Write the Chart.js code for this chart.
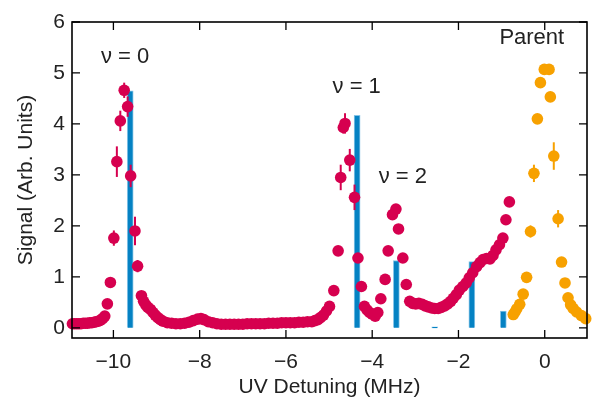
<!DOCTYPE html>
<html>
<head>
<meta charset="utf-8">
<script src="https://cdn.jsdelivr.net/npm/chart.js@4.4.1/dist/chart.umd.min.js"></script>
<style>
  html, body { margin: 0; padding: 0; background: #fff; }
</style>
</head>
<body>
<canvas id="chart" width="594" height="403"></canvas>
<script>
// molecule signal (red points), detuning in MHz
const molX = [
  -10.95, -10.9, -10.85, -10.8, -10.75, -10.7, -10.65, -10.6, -10.55, -10.5,
  -10.45, -10.4, -10.35, -10.3, -10.25, -10.2, -10.14, -10.07,
  -9.99, -9.92, -9.84, -9.75, -9.67, -9.6, -9.5, -9.44, -9.35, -9.3,
  -9.25, -9.2, -9.14, -9.08, -9.03, -8.97, -8.91, -8.85, -8.75, -8.65,
  -8.55, -8.45, -8.35, -8.25, -8.15, -8.05, -7.97, -7.9, -7.8, -7.7,
  -7.6, -7.5, -7.4, -7.3, -7.2, -7.1, -7.0, -6.9, -6.8, -6.7,
  -6.6, -6.5, -6.4, -6.3, -6.2, -6.1, -6.0, -5.9, -5.8, -5.7,
  -5.6, -5.5, -5.4, -5.33, -5.26, -5.2, -5.13, -5.06, -4.99, -4.89,
  -4.79, -4.73, -4.67, -4.63, -4.52, -4.41, -4.33, -4.25, -4.18, -4.12,
  -4.06, -4.0, -3.93, -3.87, -3.8, -3.7, -3.63, -3.53, -3.45, -3.39,
  -3.29, -3.21, -3.13, -3.06, -2.99, -2.92, -2.84, -2.77, -2.7, -2.62,
  -2.55, -2.47, -2.4, -2.32, -2.25, -2.18, -2.12, -2.05, -1.98, -1.9,
  -1.82, -1.75, -1.67, -1.58, -1.5, -1.43, -1.35, -1.27, -1.2, -1.13,
  -1.05, -0.97, -0.9, -0.82
];
const molY = [
  0.08, 0.08, 0.08, 0.08, 0.08, 0.09, 0.09, 0.09, 0.10, 0.10,
  0.11, 0.12, 0.13, 0.15, 0.18, 0.23, 0.47, 0.89,
  1.76, 3.26, 4.06, 4.66, 4.34, 2.98, 1.90, 1.21, 0.63, 0.52,
  0.45, 0.40, 0.36, 0.30, 0.25, 0.20, 0.16, 0.13, 0.10, 0.09,
  0.08, 0.08, 0.09, 0.11, 0.14, 0.17, 0.18, 0.16, 0.12, 0.10,
  0.08, 0.07, 0.07, 0.07, 0.07, 0.07, 0.07, 0.08, 0.08, 0.08,
  0.08, 0.08, 0.09, 0.09, 0.09, 0.10, 0.10, 0.10, 0.10, 0.11,
  0.11, 0.12, 0.12, 0.14, 0.16, 0.20, 0.25, 0.33, 0.42, 0.73,
  1.51, 2.95, 3.93, 4.01, 3.29, 2.56, 1.37, 0.81, 0.42, 0.35,
  0.30, 0.27, 0.23, 0.30, 0.57, 0.95, 1.51, 2.22, 2.33, 1.94,
  1.37, 0.85, 0.52, 0.48, 0.47, 0.48, 0.46, 0.43, 0.41, 0.39,
  0.38, 0.38, 0.40, 0.43, 0.47, 0.52, 0.58, 0.65, 0.74, 0.81,
  0.88, 0.98, 1.08, 1.20, 1.28, 1.34, 1.36, 1.35, 1.42, 1.53,
  1.63, 1.76, 2.12, 2.47
];
// half-length of error bars (0 = none drawn)
const molErr = [
  0, 0, 0, 0, 0, 0, 0, 0, 0, 0,
  0, 0, 0, 0, 0, 0, 0, 0,
  0.15, 0.3, 0.2, 0.15, 0.2, 0.22, 0.28, 0.12, 0, 0,
  0, 0, 0, 0, 0, 0, 0, 0, 0, 0,
  0, 0, 0, 0, 0, 0, 0, 0, 0, 0,
  0, 0, 0, 0, 0, 0, 0, 0, 0, 0,
  0, 0, 0, 0, 0, 0, 0, 0, 0, 0,
  0, 0, 0, 0, 0, 0, 0, 0, 0, 0,
  0, 0.25, 0.12, 0.2, 0.22, 0.25, 0, 0, 0, 0,
  0, 0, 0, 0, 0, 0, 0, 0, 0, 0,
  0, 0, 0, 0, 0, 0, 0, 0, 0, 0,
  0, 0, 0, 0, 0, 0, 0, 0, 0, 0,
  0, 0, 0, 0, 0, 0, 0, 0, 0, 0,
  0, 0, 0, 0
];

// parent (orange points)
const parentX = [-0.73, -0.69, -0.65, -0.58, -0.5, -0.42, -0.33, -0.25, -0.17, -0.1,
  -0.01, 0.1, 0.13, 0.21, 0.31, 0.39, 0.47, 0.54, 0.6, 0.66, 0.74, 0.85, 0.95];
const parentY = [0.26, 0.31, 0.37, 0.46, 0.66, 0.99, 1.89, 3.03, 4.10, 4.81,
  5.07, 5.07, 4.53, 3.37, 2.14, 1.29, 0.88, 0.59, 0.45, 0.38, 0.31, 0.24, 0.18];
const parentErr = [0, 0, 0, 0, 0, 0, 0.12, 0.17, 0, 0,
  0, 0, 0, 0.27, 0.17, 0, 0, 0, 0, 0, 0, 0, 0];

// calculated lines (blue sticks)
const stickX = [-9.61, -4.35, -3.44, -2.55, -1.69, -0.96];
const stickY = [4.65, 4.17, 1.32, 0.02, 1.30, 0.33];

const xTicks = [-10, -8, -6, -4, -2, 0];
const yTicks = [0, 1, 2, 3, 4, 5, 6];

const peakLabels = [
  { text: "\u03bd = 0", x: -9.73, y: 5.32 },
  { text: "\u03bd = 1", x: -4.36, y: 4.73 },
  { text: "\u03bd = 2", x: -3.29, y: 2.96 },
  { text: "Parent", x: -0.30, y: 5.68 }
];

const FONT = "'Liberation Sans', Arial, Helvetica, sans-serif";
const TEXT = "#222";

const toPts = (xs, ys) => xs.map((x, i) => ({ x: x, y: ys[i] }));
const fmt = (v) => (v < 0 ? "\u2212" + Math.abs(v) : String(v));

// error bars, drawn just under each point set
const errorBars = {
  id: "errorBars",
  beforeDatasetDraw(chart, args) {
    const ds = chart.data.datasets[args.index];
    if (!ds.err) return;
    const { ctx, scales } = chart;
    ctx.save();
    ctx.strokeStyle = ds.backgroundColor;
    ctx.lineWidth = 2;
    ds.data.forEach((p, i) => {
      const e = ds.err[i];
      if (!e) return;
      const px = scales.x.getPixelForValue(p.x);
      ctx.beginPath();
      ctx.moveTo(px, scales.y.getPixelForValue(p.y - e));
      ctx.lineTo(px, scales.y.getPixelForValue(p.y + e));
      ctx.stroke();
    });
    ctx.restore();
  }
};

// boxed frame with inward ticks on every side
const frame = {
  id: "frame",
  afterDraw(chart) {
    const { ctx, chartArea: a, scales } = chart;
    const len = 8;
    ctx.save();
    ctx.strokeStyle = "#000";
    ctx.lineWidth = 1.3;
    ctx.beginPath();
    xTicks.forEach((v) => {
      const px = scales.x.getPixelForValue(v);
      ctx.moveTo(px, a.bottom); ctx.lineTo(px, a.bottom - len);
      ctx.moveTo(px, a.top); ctx.lineTo(px, a.top + len);
    });
    yTicks.forEach((v) => {
      const py = scales.y.getPixelForValue(v);
      ctx.moveTo(a.left, py); ctx.lineTo(a.left + len, py);
      ctx.moveTo(a.right, py); ctx.lineTo(a.right - len, py);
    });
    ctx.stroke();
    ctx.lineWidth = 1.6;
    ctx.strokeRect(a.left, a.top, a.right - a.left, a.bottom - a.top);
    ctx.restore();
  }
};

const labelsPlugin = {
  id: "peakLabels",
  afterDatasetsDraw(chart) {
    const { ctx, scales } = chart;
    ctx.save();
    ctx.fillStyle = TEXT;
    ctx.font = "22px " + FONT;
    ctx.textAlign = "center";
    ctx.textBaseline = "middle";
    peakLabels.forEach((l) => {
      ctx.fillText(l.text, scales.x.getPixelForValue(l.x), scales.y.getPixelForValue(l.y));
    });
    ctx.restore();
  }
};

new Chart(document.getElementById("chart"), {
  type: "scatter",
  data: {
    datasets: [
      {
        label: "Molecules",
        data: toPts(molX, molY),
        err: molErr,
        backgroundColor: "#d6004f",
        borderColor: "#d6004f",
        pointRadius: 5.8,
        pointBorderWidth: 0,
        clip: false
      },
      {
        label: "Parent",
        data: toPts(parentX, parentY),
        err: parentErr,
        backgroundColor: "#f7a100",
        borderColor: "#f7a100",
        pointRadius: 5.8,
        pointBorderWidth: 0,
        clip: false
      },
      {
        type: "bar",
        label: "Calc",
        data: toPts(stickX, stickY),
        backgroundColor: "#0582c3",
        borderColor: "rgba(120,190,228,0.9)",
        borderWidth: 1,
        barThickness: 6,
        grouped: false
      }
    ]
  },
  options: {
    responsive: false,
    animation: false,
    layout: { padding: { top: 22, right: 7, left: 0, bottom: 0 } },
    plugins: { legend: { display: false }, tooltip: { enabled: false } },
    scales: {
      x: {
        type: "linear",
        offset: false,
        min: -10.96,
        max: 0.98,
        afterBuildTicks: (s) => { s.ticks = xTicks.map((v) => ({ value: v })); },
        afterFit: (s) => { s.height = 65; },
        grid: { display: false, drawTicks: false, offset: false },
        border: { display: false },
        ticks: {
          padding: 12,
          color: TEXT,
          font: { family: FONT, size: 21 },
          maxRotation: 0,
          callback: fmt
        },
        title: {
          display: true,
          text: "UV Detuning (MHz)",
          color: TEXT,
          font: { family: FONT, size: 21 },
          padding: { top: 0, bottom: 3 }
        }
      },
      y: {
        min: -0.2,
        max: 6,
        afterBuildTicks: (s) => { s.ticks = yTicks.map((v) => ({ value: v })); },
        afterFit: (s) => { s.width = 72; },
        grid: { display: false, drawTicks: false },
        border: { display: false },
        ticks: {
          padding: 7,
          color: TEXT,
          font: { family: FONT, size: 21 },
          callback: fmt
        },
        title: {
          display: true,
          text: "Signal (Arb. Units)",
          color: TEXT,
          font: { family: FONT, size: 21 },
          padding: { top: 14, bottom: 0 }
        }
      }
    }
  },
  plugins: [errorBars, frame, labelsPlugin]
});
</script>
</body>
</html>
